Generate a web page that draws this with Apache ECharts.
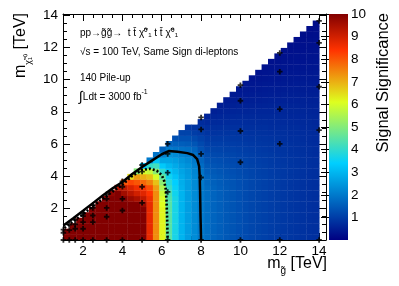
<!DOCTYPE html>
<html><head><meta charset="utf-8">
<script src="https://cdn.jsdelivr.net/npm/echarts@6/dist/echarts.min.js"></script>
<style>html,body{margin:0;padding:0;background:#fff}#c{width:399px;height:286px}</style>
</head><body><div id="c"></div>
<script>
// ---- histogram binning (40 x 40 interpolation grid) ----
const xBinLow = 1.0, xBinWidth = 0.325;
const yBinLow = 0.0, yBinWidth = 0.3417;

// ---- signal significance per m_gluino bin (column), from the lowest m_chi bin upward ----
const significance = [
 [10,10],
 [10,10,10],
 [10,10,10,10],
 [10,10,10,10,10],
 [10,10,10,10,10,10],
 [10,10,10,10,10,10,10],
 [10,10,10,10,10,10,10,10],
 [10,10,10,10,10,10,10,10,9.8],
 [10,10,10,10,10,10,10,10,10,9.3],
 [10,10,10,10,10,10,10,10,9.6,9.2,8.0],
 [10,10,10,10,10,10,10,9.7,9.3,8.9,8.2,6.5],
 [10,10,10,10,10,10,10,9.5,9.0,8.6,8.0,7.2,5.0],
 [10,10,10,10,10,10,9.7,9.2,8.8,8.5,7.8,7.0,6.0,3.0],
 [8.7,8.7,8.7,8.7,8.7,8.7,8.7,8.6,8.4,8.1,7.5,6.8,5.8,4.0,2.0],
 [7.4,7.4,7.4,7.4,7.4,7.4,7.4,7.4,7.4,7.2,6.8,6.0,5.1,4.2,3.2,1.9],
 [6.2,6.2,6.2,6.2,6.2,6.2,6.1,6.0,5.8,5.5,5.1,4.6,4.0,3.3,2.7,2.1,1.6],
 [4.5,4.5,4.5,4.5,4.5,4.5,4.5,4.4,4.3,4.1,3.9,3.6,3.3,3.0,2.7,2.4,2.0,1.6],
 [3.7,3.7,3.7,3.7,3.7,3.7,3.7,3.7,3.6,3.5,3.4,3.2,3.0,2.8,2.6,2.3,1.9,1.6,1.3],
 [2.95,2.95,2.95,2.95,2.95,2.95,2.95,2.95,2.95,2.9,2.85,2.8,2.7,2.55,2.4,2.15,1.85,1.55,1.3,1.1],
 [2.6,2.6,2.6,2.6,2.6,2.6,2.6,2.6,2.6,2.6,2.6,2.55,2.5,2.4,2.25,2.05,1.8,1.5,1.3,1.1,0.9],
 [2.3,2.3,2.3,2.3,2.3,2.3,2.3,2.3,2.3,2.3,2.3,2.25,2.2,2.1,2.0,1.85,1.65,1.4,1.2,1.0,0.85],
 [2.0,2.0,2.0,2.0,2.0,2.0,2.0,2.0,2.0,2.0,2.0,1.98,1.88,1.77,1.64,1.5,1.34,1.2,1.07,0.94,0.83,0.72],
 [1.8,1.8,1.8,1.8,1.8,1.8,1.8,1.8,1.8,1.76,1.7,1.64,1.55,1.46,1.36,1.26,1.15,1.04,0.95,0.85,0.76,0.67,0.59],
 [1.65,1.65,1.65,1.65,1.65,1.65,1.65,1.65,1.65,1.63,1.58,1.53,1.46,1.39,1.3,1.2,1.11,1.02,0.93,0.84,0.76,0.68,0.6,0.53],
 [1.55,1.55,1.55,1.55,1.55,1.55,1.55,1.55,1.55,1.54,1.5,1.46,1.4,1.33,1.27,1.18,1.1,1.02,0.93,0.85,0.77,0.69,0.62,0.55,0.49],
 [1.45,1.45,1.45,1.45,1.45,1.45,1.45,1.45,1.45,1.45,1.42,1.38,1.33,1.28,1.22,1.15,1.07,1.0,0.93,0.85,0.78,0.7,0.63,0.57,0.51,0.45],
 [1.38,1.38,1.38,1.38,1.38,1.38,1.38,1.38,1.38,1.38,1.36,1.33,1.29,1.24,1.19,1.13,1.06,0.99,0.92,0.86,0.79,0.72,0.65,0.59,0.53,0.48,0.43],
 [1.3,1.3,1.3,1.3,1.3,1.3,1.3,1.3,1.3,1.3,1.29,1.26,1.23,1.19,1.15,1.09,1.04,0.97,0.91,0.85,0.79,0.72,0.66,0.6,0.55,0.49,0.44,0.4],
 [1.22,1.22,1.22,1.22,1.22,1.22,1.22,1.22,1.22,1.22,1.22,1.2,1.17,1.13,1.1,1.05,1.0,0.95,0.89,0.83,0.77,0.72,0.66,0.6,0.55,0.5,0.45,0.41,0.37],
 [1.15,1.15,1.15,1.15,1.15,1.15,1.15,1.15,1.15,1.15,1.15,1.13,1.12,1.08,1.05,1.01,0.97,0.92,0.87,0.82,0.76,0.71,0.66,0.61,0.56,0.51,0.47,0.42,0.38,0.34],
 [1.1,1.1,1.1,1.1,1.1,1.1,1.1,1.1,1.1,1.1,1.1,1.09,1.07,1.05,1.02,0.98,0.95,0.9,0.86,0.81,0.76,0.71,0.66,0.62,0.57,0.52,0.48,0.43,0.4,0.36,0.32],
 [1.05,1.05,1.05,1.05,1.05,1.05,1.05,1.05,1.05,1.05,1.05,1.05,1.03,1.01,0.99,0.96,0.92,0.88,0.85,0.8,0.76,0.71,0.66,0.62,0.57,0.53,0.49,0.45,0.41,0.37,0.34,0.31],
 [1.0,1.0,1.0,1.0,1.0,1.0,1.0,1.0,1.0,1.0,1.0,1.0,0.99,0.97,0.95,0.93,0.89,0.86,0.83,0.79,0.74,0.7,0.66,0.62,0.58,0.54,0.5,0.46,0.42,0.39,0.35,0.32,0.29],
 [0.96,0.96,0.96,0.96,0.96,0.96,0.96,0.96,0.96,0.96,0.96,0.96,0.95,0.94,0.92,0.9,0.87,0.84,0.81,0.78,0.73,0.7,0.66,0.62,0.58,0.54,0.5,0.47,0.43,0.39,0.36,0.33,0.3,0.28],
 [0.92,0.92,0.92,0.92,0.92,0.92,0.92,0.92,0.92,0.92,0.92,0.92,0.92,0.91,0.89,0.87,0.85,0.82,0.79,0.76,0.73,0.69,0.65,0.62,0.58,0.54,0.51,0.47,0.44,0.4,0.37,0.35,0.31,0.29,0.26],
 [0.88,0.88,0.88,0.88,0.88,0.88,0.88,0.88,0.88,0.88,0.88,0.88,0.88,0.87,0.86,0.84,0.82,0.8,0.77,0.74,0.71,0.68,0.64,0.61,0.58,0.54,0.51,0.48,0.44,0.41,0.38,0.35,0.33,0.3,0.27,0.25],
 [0.85,0.85,0.85,0.85,0.85,0.85,0.85,0.85,0.85,0.85,0.85,0.85,0.85,0.85,0.83,0.82,0.8,0.78,0.76,0.73,0.71,0.67,0.64,0.61,0.58,0.54,0.51,0.48,0.45,0.42,0.39,0.36,0.34,0.31,0.28,0.26,0.24],
 [0.82,0.82,0.82,0.82,0.82,0.82,0.82,0.82,0.82,0.82,0.82,0.82,0.82,0.82,0.81,0.8,0.78,0.76,0.74,0.72,0.69,0.66,0.64,0.61,0.57,0.55,0.52,0.48,0.46,0.43,0.4,0.37,0.34,0.32,0.29,0.27,0.25,0.23],
 [0.79,0.79,0.79,0.79,0.79,0.79,0.79,0.79,0.79,0.79,0.79,0.79,0.79,0.79,0.78,0.77,0.76,0.74,0.72,0.7,0.68,0.66,0.63,0.6,0.57,0.54,0.51,0.49,0.46,0.43,0.4,0.38,0.35,0.33,0.3,0.28,0.26,0.24,0.22],
 [0.76,0.76,0.76,0.76,0.76,0.76,0.76,0.76,0.76,0.76,0.76,0.76,0.76,0.76,0.76,0.74,0.73,0.72,0.7,0.68,0.66,0.64,0.62,0.59,0.57,0.54,0.51,0.49,0.46,0.43,0.41,0.38,0.36,0.33,0.31,0.29,0.27,0.25,0.23,0.21]
];

// ---- simulated signal mass points (m_gluino, m_chi) ----
const pointMg = [1.0,1.3,1.6,2.0,2.5,3.2,4.0,5.0,6.3,8.0,10,12,14,
 1.0,1.0, 1.3,1.3, 1.6,1.6,1.6, 2.0,2.0,2.0,2.0, 2.5,2.5,2.5,2.5, 3.2,3.2,3.2,3.2,
 4.0,4.0,4.0,4.0, 5.0,5.0,5.0,5.0, 6.3,6.3,6.3,6.3, 8.0,8.0,8.0,8.0,
 10,10,10,10, 12,12,12,12, 14,14,14,14];
const pointMchi = [0,0,0,0,0,0,0,0,0,0,0,0,0,
 0.45,0.65, 0.62,0.96, 0.7,0.97,1.26, 0.7,1.12,1.49,1.66, 1.12,1.53,2.0,2.18, 1.45,2.0,2.57,2.85,
 1.84,2.57,3.32,3.66, 2.32,3.32,4.27,4.68, 3.0,4.2,5.37,6.0, 3.9,5.37,6.9,7.65,
 4.85,6.8,8.69,9.66, 6.0,8.17,10.5,11.67, 6.86,9.56,12.3,13.67];

// ---- contours ----
const solidContourX = [1.0,1.5,2.0,2.5,3.0,3.5,4.0,4.5,5.0,5.5,6.0,6.35,6.8,7.3,7.6,7.8,7.9,7.93,7.95,7.97,8.0];
const solidContourY = [0.9,1.35,1.82,2.3,2.78,3.22,3.62,4.12,4.55,4.95,5.35,5.55,5.5,5.42,5.3,5.05,4.6,4.0,3.0,1.5,0];
const dottedContourX = [1.05,1.5,2.0,2.5,3.0,3.5,4.0,4.5,5.0,5.4,5.75,6.0,6.12,6.2,6.24,6.27,6.3];
const dottedContourY = [0.75,1.17,1.62,2.1,2.57,3.02,3.45,4.0,4.37,4.45,4.32,4.05,3.7,3.2,2.5,1.5,0];

// ---- ticks ----
const xMajorTicks = [2,4,6,8,10,12,14];
const yMajorTicks = [2,4,6,8,10,12,14];
const zMajorTicks = [1,2,3,4,5,6,7,8,9,10];
const xMinorTicks = [1,1.5,2,2.5,3,3.5,4,4.5,5,5.5,6,6.5,7,7.5,8,8.5,9,9.5,10,10.5,11,11.5,12,12.5,13,13.5,14];
const yMinorTicks = [0.5,1,1.5,2,2.5,3,3.5,4,4.5,5,5.5,6,6.5,7,7.5,8,8.5,9,9.5,10,10.5,11,11.5,12,12.5,13,13.5,14];

// ---- style ----
const FONT = '"Liberation Sans", Arial, Helvetica, sans-serif';
const paletteStops = [[0,[0,0,130]],[0.34,[0,207,255]],[0.61,[222,255,31]],[0.84,[255,51,0]],[1,[130,0,0]]];
function paletteAt(t){
  for (let i=0;i<paletteStops.length-1;i++){
    const [a,ca]=paletteStops[i],[b,cb]=paletteStops[i+1];
    if (t<=b){const f=(t-a)/(b-a);return 'rgb('+ca.map((c,n)=>Math.round(c+(cb[n]-c)*f)).join(',')+')';}
  }
  return 'rgb(130,0,0)';
}
const rampColors=[]; for(let i=0;i<=100;i++) rampColors.push(paletteAt(i/100));
const gradStops = paletteStops.map(s=>({offset:s[0],color:'rgb('+s[1].join(',')+')'}));

const X_MIN=0.98, X_MAX=14.35, Y_MIN=0, Y_MAX=14.1;

const heatData=[];
significance.forEach((col,k)=>col.forEach((v,j)=>heatData.push([xBinLow+(k+0.5)*xBinWidth, yBinLow+(j+0.5)*yBinWidth, v])));

function xAxisDef(pos, ticks, len, withLabels, withLine){
  return {type:'value', gridIndex:0, position:pos, min:X_MIN, max:X_MAX,
    axisLine:{show:withLine, onZero:false, lineStyle:{color:'#000',width:1}},
    axisTick:{show:true, inside:true, length:len, customValues:ticks, lineStyle:{color:'#000',width:1}},
    axisLabel:{show:withLabels, customValues:ticks, color:'#000', fontSize:13.5, fontFamily:FONT, margin:4},
    splitLine:{show:false}};
}
function yAxisDef(pos, ticks, len, withLabels, withLine){
  return {type:'value', gridIndex:0, position:pos, min:Y_MIN, max:Y_MAX,
    axisLine:{show:withLine, onZero:false, lineStyle:{color:'#000',width:1}},
    axisTick:{show:true, inside:true, length:len, customValues:ticks, lineStyle:{color:'#000',width:1}},
    axisLabel:{show:withLabels, customValues:ticks, color:'#000', fontSize:13.5, fontFamily:FONT, margin:5},
    splitLine:{show:false}};
}

const chart = echarts.init(document.getElementById('c'), null, {renderer:'canvas'});
chart.setOption({
  animation:false,
  backgroundColor:'#fff',
  grid:[
    {left:63, top:14, width:263, height:226, outerBoundsMode:'none'},
    {left:329, top:14, width:19, height:226, outerBoundsMode:'none'}
  ],
  xAxis:[
    xAxisDef('bottom', xMajorTicks, 7, true, true),
    xAxisDef('bottom', xMinorTicks, 4, false, false),
    xAxisDef('top', xMajorTicks, 7, false, true),
    xAxisDef('top', xMinorTicks, 4, false, false),
    {type:'value', gridIndex:1, min:0, max:1, show:false}
  ],
  yAxis:[
    yAxisDef('left', yMajorTicks, 7, true, true),
    yAxisDef('left', yMinorTicks, 4, false, false),
    yAxisDef('right', yMajorTicks, 7, false, true),
    yAxisDef('right', yMinorTicks, 4, false, false),
    {type:'value', gridIndex:1, position:'right', min:0, max:10,
     axisLine:{show:false},
     axisTick:{show:true, inside:true, length:8, customValues:zMajorTicks, lineStyle:{color:'#000',width:1}},
     axisLabel:{customValues:zMajorTicks, color:'#000', fontSize:13.5, fontFamily:FONT, margin:3},
     splitLine:{show:false}}
  ],
  visualMap:{show:false, type:'continuous', min:0, max:10, dimension:2, seriesIndex:0, inRange:{color:rampColors}},
  series:[
    {type:'custom', xAxisIndex:0, yAxisIndex:0, data:heatData, encode:{x:0,y:1}, z:1,
     renderItem:function(params, api){
       const xc=api.value(0), yc=api.value(1);
       const a=api.coord([xc-xBinWidth/2, yc+yBinWidth/2]);
       const b=api.coord([xc+xBinWidth/2, yc-yBinWidth/2]);
       return {type:'rect', shape:{x:a[0], y:a[1]-0.4, width:b[0]-a[0]+0.4, height:b[1]-a[1]+0.4},
               style:{fill:api.visual('color')}};
     }},
    {type:'scatter', xAxisIndex:0, yAxisIndex:0, z:3,
     data:pointMg.map((x,i)=>[x,pointMchi[i]]),
     symbol:'path://M2,0H4V2H6V4H4V6H2V4H0V2H2Z', symbolSize:5.5,
     itemStyle:{color:'#000'}},
    {type:'line', xAxisIndex:0, yAxisIndex:0, z:4, showSymbol:false, symbol:'none',
     data:solidContourX.map((x,i)=>[x,solidContourY[i]]),
     lineStyle:{color:'#000', width:2.5, type:'solid'}},
    {type:'line', xAxisIndex:0, yAxisIndex:0, z:4, showSymbol:false, symbol:'none',
     data:dottedContourX.map((x,i)=>[x,dottedContourY[i]]),
     lineStyle:{color:'#000', width:2.6, type:[2,2], cap:'butt'}},
    {type:'custom', xAxisIndex:4, yAxisIndex:4, data:[[0,0]], z:1,
     renderItem:function(params, api){
       const a=api.coord([0,10]), b=api.coord([1,0]);
       return {type:'rect', shape:{x:a[0], y:a[1], width:b[0]-a[0], height:b[1]-a[1]},
               style:{fill:new echarts.graphic.LinearGradient(0,1,0,0,gradStops)}};
     }}
  ],
  graphic:[
    {type:'text', x:80, y:33, style:{text:'pp\u2192g\u0303g\u0303\u2192  t t\u0304 \u03C7\u0303\u2070\u2081 t t\u0304 \u03C7\u0303\u2070\u2081', fontSize:10, fontFamily:FONT, fill:'#000', align:'left', verticalAlign:'middle'}},
    {type:'text', x:80, y:52, style:{text:'\u221As = 100 TeV, Same Sign di-leptons', fontSize:10, fontFamily:FONT, fill:'#000', align:'left', verticalAlign:'middle'}},
    {type:'text', x:80, y:78, style:{text:'140 Pile-up', fontSize:10, fontFamily:FONT, fill:'#000', align:'left', verticalAlign:'middle'}},
    {type:'text', x:79, y:97, style:{text:'{i|\u222B}Ldt = 3000 fb{s|-1}', fontSize:10, fontFamily:FONT, fill:'#000', align:'left', verticalAlign:'middle',
      rich:{i:{fontSize:14, fontFamily:FONT, lineHeight:16, verticalAlign:'middle'}, s:{fontSize:7, fontFamily:FONT, verticalAlign:'top', lineHeight:14}}}},
    {type:'text', x:23, y:13, rotation:Math.PI/2, style:{text:'{m|m}{s|\u03C7\u0303\u2081\u2070}{m| [TeV]}', fill:'#000', align:'right', verticalAlign:'middle',
      rich:{m:{fontSize:16, fontFamily:FONT, lineHeight:20, verticalAlign:'top'}, s:{fontSize:9, fontFamily:FONT, lineHeight:11, verticalAlign:'bottom'}}}},
    {type:'text', x:327, y:266, style:{text:'{m|m}{s|g\u0303}{m| [TeV]}', fill:'#000', align:'right', verticalAlign:'middle',
      rich:{m:{fontSize:16, fontFamily:FONT, lineHeight:20, verticalAlign:'top'}, s:{fontSize:10, fontFamily:FONT, lineHeight:12, verticalAlign:'bottom'}}}},
    {type:'text', x:383, y:13, rotation:Math.PI/2, style:{text:'Signal Significance', fontSize:16.5, fontFamily:FONT, fill:'#000', align:'right', verticalAlign:'middle'}}
  ]
});
</script></body></html>
